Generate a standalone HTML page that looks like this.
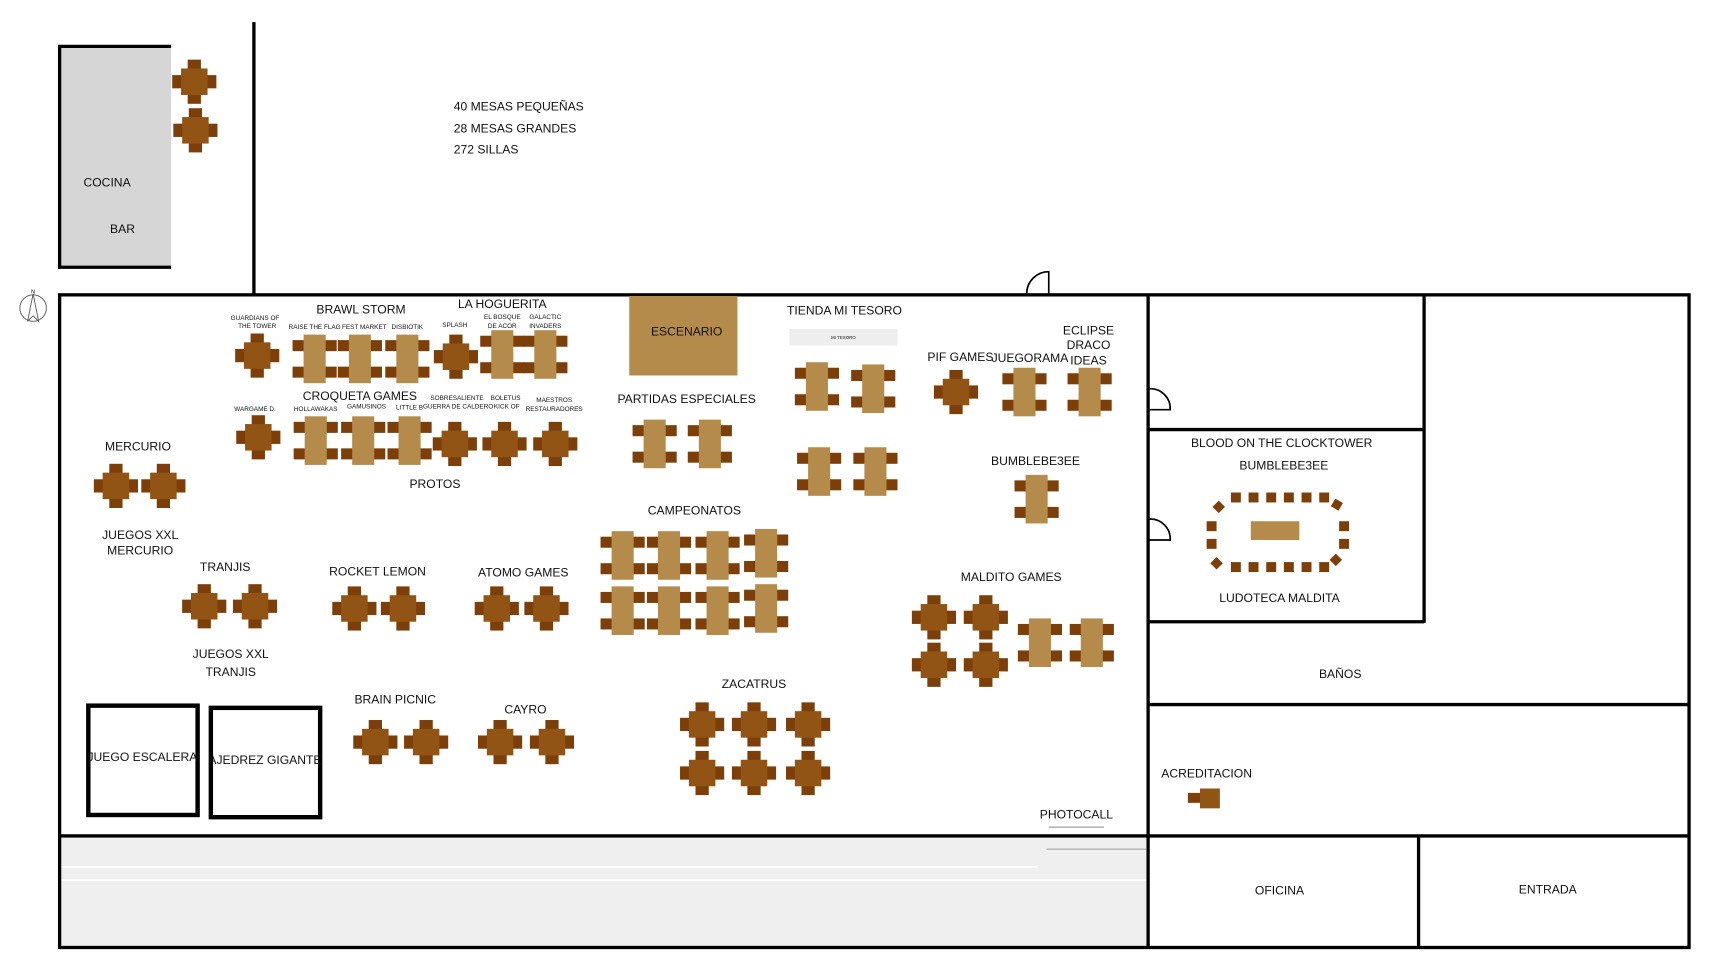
<!DOCTYPE html>
<html><head><meta charset="utf-8"><style>
html,body{margin:0;padding:0;background:#fff;}
svg{display:block;}
text{font-family:"Liberation Sans",sans-serif;fill:#111;text-anchor:middle;}
.l{font-size:11px;}
.t{font-size:5.8px;}
</style></head><body>
<svg width="1731" height="974" viewBox="0 0 1568 882" preserveAspectRatio="none" xmlns="http://www.w3.org/2000/svg">
<defs>
<g id="s">
<rect x="-6" y="-20" width="12" height="10" fill="#7d3f0a"/>
<rect x="-6" y="10" width="12" height="10" fill="#7d3f0a"/>
<rect x="-20" y="-6" width="10" height="12" fill="#7d3f0a"/>
<rect x="10" y="-6" width="10" height="12" fill="#7d3f0a"/>
<rect x="-12" y="-12" width="24" height="24" fill="#915414"/>
</g>
<g id="b">
<rect x="-20" y="-17" width="11" height="10" fill="#7d3f0a"/>
<rect x="9" y="-17" width="11" height="10" fill="#7d3f0a"/>
<rect x="-20" y="7" width="11" height="10" fill="#7d3f0a"/>
<rect x="9" y="7" width="11" height="10" fill="#7d3f0a"/>
<rect x="-10" y="-22" width="20" height="44" fill="#b48b4b"/>
</g>
</defs>

<rect x="54" y="42" width="101" height="200" fill="#d6d6d6"/>
<polyline points="155,42 54,42 54,242 155,242" fill="none" stroke="#000" stroke-width="3"/>
<text x="97" y="169" class="l">COCINA</text>
<text x="111" y="211" class="l">BAR</text>
<line x1="230" y1="20" x2="230" y2="268" stroke="#000" stroke-width="3"/>

<text x="411" y="100" class="l" style="text-anchor:start">40 MESAS PEQUEÑAS</text>
<text x="411" y="120" class="l" style="text-anchor:start">28 MESAS GRANDES</text>
<text x="411" y="139" class="l" style="text-anchor:start">272 SILLAS</text>

<g stroke="#555" stroke-width="0.8" fill="none">
<circle cx="30" cy="279" r="12"/>
<polyline points="25,291 30,266 35,291 30,286 25,291"/>
</g>
<text x="30" y="266" style="font-size:5px">N</text>

<rect x="55" y="759" width="985" height="98" fill="#efefef"/>
<line x1="55" y1="785" x2="940" y2="785" stroke="#fff" stroke-width="1.5"/>
<line x1="55" y1="797" x2="1040" y2="797" stroke="#fff" stroke-width="1.5"/>

<rect x="54" y="267" width="1476" height="591" fill="none" stroke="#000" stroke-width="3"/>
<line x1="1040" y1="267" x2="1040" y2="858" stroke="#000" stroke-width="3"/>
<line x1="54" y1="757" x2="1040" y2="757" stroke="#000" stroke-width="3"/>
<line x1="1040" y1="389" x2="1290" y2="389" stroke="#000" stroke-width="3"/>
<line x1="1290" y1="267" x2="1290" y2="564" stroke="#000" stroke-width="3"/>
<line x1="1040" y1="563" x2="1290" y2="563" stroke="#000" stroke-width="3"/>
<line x1="1040" y1="638" x2="1530" y2="638" stroke="#000" stroke-width="3"/>
<line x1="1040" y1="757" x2="1530" y2="757" stroke="#000" stroke-width="3"/>
<line x1="1285" y1="757" x2="1285" y2="858" stroke="#000" stroke-width="3"/>

<g fill="none" stroke="#000" stroke-width="1.5">
<path d="M950,266 L950,246 A20,20 0 0 0 930,266"/>
<path d="M1041,352 A18,18 0 0 1 1060,371 L1041,371"/>
<path d="M1041,470 A18,18 0 0 1 1060,489 L1041,489"/>
</g>

<rect x="570" y="268" width="98" height="72" fill="#b48b4b"/>
<text x="622" y="304" class="l">ESCENARIO</text>

<rect x="80" y="639" width="99" height="99" fill="none" stroke="#000" stroke-width="4"/>
<rect x="191" y="641" width="99" height="99" fill="none" stroke="#000" stroke-width="4"/>
<text x="129" y="689" class="l">JUEGO ESCALERA</text>
<text x="240" y="692" class="l">AJEDREZ GIGANTE</text>

<use href="#s" x="176" y="74"/><use href="#s" x="177" y="118"/>
<use href="#s" x="233" y="322"/><use href="#s" x="413" y="323"/>
<use href="#s" x="234" y="396"/><use href="#s" x="412" y="402"/><use href="#s" x="457" y="402"/><use href="#s" x="503" y="402"/>
<use href="#s" x="105" y="440"/><use href="#s" x="148" y="440"/>
<use href="#s" x="185" y="549"/><use href="#s" x="231" y="549"/>
<use href="#s" x="321" y="551"/><use href="#s" x="365" y="551"/>
<use href="#s" x="450" y="551"/><use href="#s" x="495" y="551"/>
<use href="#s" x="340" y="672"/><use href="#s" x="386" y="672"/>
<use href="#s" x="453" y="672"/><use href="#s" x="500" y="672"/>
<use href="#s" x="636" y="656"/><use href="#s" x="683" y="656"/><use href="#s" x="732" y="656"/>
<use href="#s" x="636" y="700"/><use href="#s" x="683" y="700"/><use href="#s" x="732" y="700"/>
<use href="#s" x="866" y="355"/>
<use href="#s" x="846" y="559"/><use href="#s" x="893" y="559"/>
<use href="#s" x="846" y="602"/><use href="#s" x="893" y="602"/>

<use href="#b" x="285" y="325"/><use href="#b" x="326" y="325"/><use href="#b" x="369" y="325"/>
<use href="#b" x="455" y="321"/><use href="#b" x="494" y="321"/>
<use href="#b" x="286" y="399"/><use href="#b" x="329" y="399"/><use href="#b" x="371" y="399"/>
<use href="#b" x="593" y="402"/><use href="#b" x="643" y="402"/>
<use href="#b" x="740" y="350"/><use href="#b" x="791" y="352"/>
<use href="#b" x="742" y="427"/><use href="#b" x="793" y="427"/>
<use href="#b" x="928" y="355"/><use href="#b" x="987" y="355"/>
<use href="#b" x="939" y="452"/>
<use href="#b" x="942" y="582"/><use href="#b" x="989" y="582"/>
<use href="#b" x="564" y="503"/><use href="#b" x="606" y="503"/><use href="#b" x="650" y="503"/><use href="#b" x="694" y="501"/>
<use href="#b" x="564" y="553"/><use href="#b" x="606" y="553"/><use href="#b" x="650" y="553"/><use href="#b" x="694" y="551"/>

<g fill="#7d3f0a">
<rect x="1115" y="446" width="9" height="9"/><rect x="1131" y="446" width="9" height="9"/><rect x="1147" y="446" width="9" height="9"/><rect x="1163" y="446" width="9" height="9"/><rect x="1179" y="446" width="9" height="9"/><rect x="1195" y="446" width="9" height="9"/>
<rect x="1115" y="509" width="9" height="9"/><rect x="1131" y="509" width="9" height="9"/><rect x="1147" y="509" width="9" height="9"/><rect x="1163" y="509" width="9" height="9"/><rect x="1179" y="509" width="9" height="9"/><rect x="1195" y="509" width="9" height="9"/>
<rect x="1093" y="472" width="9" height="9"/><rect x="1093" y="488" width="9" height="9"/>
<rect x="1213" y="472" width="9" height="9"/><rect x="1213" y="488" width="9" height="9"/>
<rect x="1100" y="455" width="8" height="8" transform="rotate(45 1104 459)"/>
<rect x="1207" y="453" width="8" height="8" transform="rotate(30 1211 457)"/>
<rect x="1098" y="506" width="8" height="8" transform="rotate(45 1102 510)"/>
<rect x="1206" y="503" width="8" height="8" transform="rotate(45 1210 507)"/>
</g>
<rect x="1133" y="472" width="44" height="17" fill="#b48b4b"/>

<rect x="1076" y="718" width="11" height="9" fill="#7d3f0a"/>
<rect x="1087" y="714" width="18" height="18" fill="#915414"/>

<rect x="715" y="298" width="98" height="15" fill="#eeeeee"/>
<text x="764" y="307" style="font-size:4px">MI TESORO</text>

<line x1="950" y1="749" x2="1000" y2="749" stroke="#888" stroke-width="1"/>
<line x1="948" y1="769" x2="1038" y2="769" stroke="#bbb" stroke-width="1.5"/>

<text x="327" y="284" class="l">BRAWL STORM</text>
<text x="455" y="279" class="l">LA HOGUERITA</text>
<text x="326" y="362" class="l">CROQUETA GAMES</text>
<text x="394" y="442" class="l">PROTOS</text>
<text x="125" y="408" class="l">MERCURIO</text>
<text x="127" y="488" class="l">JUEGOS XXL</text>
<text x="127" y="502" class="l">MERCURIO</text>
<text x="204" y="517" class="l">TRANJIS</text>
<text x="209" y="596" class="l">JUEGOS XXL</text>
<text x="209" y="612" class="l">TRANJIS</text>
<text x="342" y="521" class="l">ROCKET LEMON</text>
<text x="474" y="522" class="l">ATOMO GAMES</text>
<text x="358" y="637" class="l">BRAIN PICNIC</text>
<text x="476" y="646" class="l">CAYRO</text>
<text x="683" y="623" class="l">ZACATRUS</text>
<text x="629" y="466" class="l">CAMPEONATOS</text>
<text x="622" y="365" class="l">PARTIDAS ESPECIALES</text>
<text x="765" y="285" class="l">TIENDA MI TESORO</text>
<text x="870" y="327" class="l">PIF GAMES</text>
<text x="933" y="328" class="l">JUEGORAMA</text>
<text x="986" y="303" class="l">ECLIPSE</text>
<text x="986" y="316" class="l">DRACO</text>
<text x="986" y="330" class="l">IDEAS</text>
<text x="938" y="421" class="l">BUMBLEBE3EE</text>
<text x="916" y="526" class="l">MALDITO GAMES</text>
<text x="1161" y="405" class="l">BLOOD ON THE CLOCKTOWER</text>
<text x="1163" y="425" class="l">BUMBLEBE3EE</text>
<text x="1159" y="545" class="l">LUDOTECA MALDITA</text>
<text x="1214" y="614" class="l">BAÑOS</text>
<text x="1093" y="704" class="l">ACREDITACION</text>
<text x="1159" y="810" class="l">OFICINA</text>
<text x="1402" y="809" class="l">ENTRADA</text>
<text x="975" y="741" class="l">PHOTOCALL</text>

<text x="231" y="290" class="t">GUARDIANS OF</text>
<text x="233" y="297" class="t">THE TOWER</text>
<text x="285" y="298" class="t">RAISE THE FLAG</text>
<text x="330" y="298" class="t">FEST MARKET</text>
<text x="369" y="298" class="t">DISBIOTIK</text>
<text x="412" y="296" class="t">SPLASH</text>
<text x="455" y="289" class="t">EL BOSQUE</text>
<text x="455" y="297" class="t">DE ACOR</text>
<text x="494" y="289" class="t">GALACTIC</text>
<text x="494" y="297" class="t">INVADERS</text>
<text x="231" y="372" class="t">WARGAME D.</text>
<text x="286" y="372" class="t">HOLLAWAKAS</text>
<text x="332" y="370" class="t">GAMUSINOS</text>
<text x="371" y="371" class="t">LITTLE B</text>
<text x="414" y="362" class="t">SOBRESALIENTE</text>
<text x="415" y="370" class="t">GUERRA DE CALDERO</text>
<text x="458" y="362" class="t">BOLETUS</text>
<text x="459" y="370" class="t">KICK OF</text>
<text x="502" y="364" class="t">MAESTROS</text>
<text x="502" y="372" class="t">RESTAURADORES</text>
</svg>
</body></html>
